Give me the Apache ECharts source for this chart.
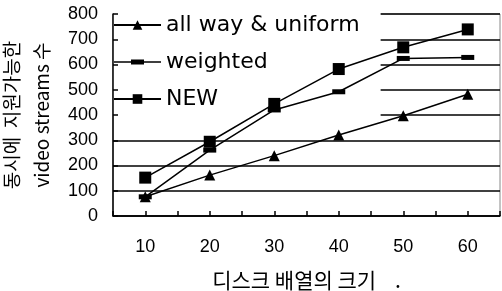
<!DOCTYPE html>
<html>
<head>
<meta charset="utf-8">
<script src="https://cdn.jsdelivr.net/npm/echarts@6/dist/echarts.min.js"></script>
<style>
  html, body { margin: 0; padding: 0; background: #fff; }
  #main { width: 502px; height: 291px; }
</style>
</head>
<body>
<div id="main"></div>
<script>
// 디스크 배열 크기 (x)
const diskSizes = [10, 20, 30, 40, 50, 60];
// 동시 지원 가능한 video streams 수
const allWayUniform = [76, 162, 239, 321, 397, 482];
const weighted = [76, 261, 420, 492, 624, 628];
const newScheme = [152, 294, 444, 582, 668, 739];
const seriesNames = ['all way & uniform', 'weighted', 'NEW'];

const pair = (vals) => diskSizes.map((x, i) => [x, vals[i]]);

const chart = echarts.init(document.getElementById('main'));

// legend icon for 'weighted': line with a small dash marker (47 x 12 box)
const dashIcon = 'path://M0,0 L0.01,0 L0.01,0.01 Z M0,12 L0.01,12 L0.01,11.99 Z '
  + 'M0,5.25 L47,5.25 L47,6.75 L0,6.75 Z M17,3.5 L30,3.5 L30,8.5 L17,8.5 Z';

const lineBase = {
  type: 'line',
  z: 2,
  lineStyle: { color: '#000', width: 1.5 },
  itemStyle: { color: '#000' },
  animation: false
};

const option = {
  backgroundColor: '#fff',
  grid: {
    left: 113, right: 2, top: 14, bottom: 75,
    outerBoundsMode: 'none',
    containLabel: false,
    show: true, borderColor: '#888', borderWidth: 1, z: 0
  },
  legend: {
    orient: 'vertical',
    left: 113, top: 10,
    padding: [2, 21, 4, 0],
    backgroundColor: '#fff',
    z: 1,
    itemWidth: 47, itemHeight: 12, itemGap: 11,
    textStyle: { fontFamily: 'DejaVu Sans', fontSize: 22, color: '#000', lineHeight: 26 },
    data: [
      { name: seriesNames[0] },
      { name: seriesNames[1], icon: dashIcon },
      { name: seriesNames[2] }
    ]
  },
  xAxis: {
    type: 'value',
    min: 5, max: 65, interval: 5,
    axisLine: { lineStyle: { color: '#000', width: 1.5 } },
    axisTick: { inside: true, length: 5, lineStyle: { color: '#000', width: 1.5 } },
    splitLine: { show: false },
    axisLabel: {
      margin: 22,
      fontFamily: 'Liberation Sans', fontSize: 18, color: '#000',
      formatter: (v) => (v % 10 === 0 ? String(v) : '')
    },
    name: '디스크 배열의 크기    .',
    nameLocation: 'middle',
    nameGap: 54,
    nameTextStyle: { fontFamily: 'Noto Sans CJK KR', fontSize: 21, color: '#000' }
  },
  yAxis: [
    {
      type: 'value',
      min: 0, max: 800, interval: 100,
      z: 5,
      axisLine: { show: true, lineStyle: { color: '#000', width: 1.5 } },
      axisTick: { show: true, inside: true, length: 5, lineStyle: { color: '#000', width: 1.5 } },
      splitLine: { show: false },
      axisLabel: { margin: 15, fontFamily: 'Liberation Sans', fontSize: 18, color: '#000' },
      name: '동시에  지원가능한\nvideo streams 수',
      nameLocation: 'middle',
      nameRotate: 90,
      nameGap: 54,
      nameTextStyle: {
        fontFamily: 'Noto Sans CJK KR', fontSize: 19, color: '#000',
        lineHeight: 30, align: 'center'
      }
    },
    {
      type: 'value',
      min: 0, max: 800, interval: 100,
      z: 0,
      axisLine: { show: false },
      axisTick: { show: false },
      axisLabel: { show: false },
      splitLine: { lineStyle: { color: '#000', width: 1.5 } }
    }
  ],
  series: [
    Object.assign({}, lineBase, {
      name: seriesNames[0], data: pair(allWayUniform),
      symbol: 'triangle', symbolSize: 11
    }),
    Object.assign({}, lineBase, {
      name: seriesNames[1], data: pair(weighted),
      symbol: 'rect', symbolSize: [13, 5]
    }),
    Object.assign({}, lineBase, {
      name: seriesNames[2], data: pair(newScheme),
      symbol: 'rect', symbolSize: 12
    })
  ]
};

chart.setOption(option);
</script>
</body>
</html>
